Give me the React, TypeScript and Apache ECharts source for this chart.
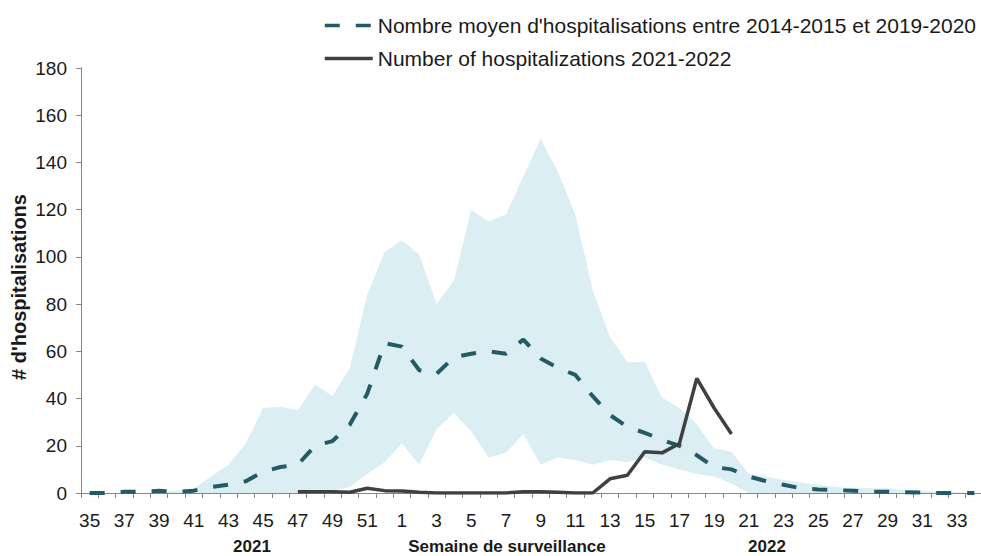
import React, { useEffect, useRef } from "react";
import * as echarts from "echarts";

const weeks: string[] = [
  "35","36","37","38","39","40","41","42","43","44","45","46","47","48","49","50","51","52",
  "1","2","3","4","5","6","7","8","9","10","11","12","13","14","15","16","17","18","19","20",
  "21","22","23","24","25","26","27","28","29","30","31","32","33","34",
];

// Mean number of hospitalisations 2014-2015 to 2019-2020
const meanValues: number[] = [
  0, 0, 0.5, 0.5, 1, 0.5, 1, 2.5, 3.5, 5, 9, 11, 12, 20, 22, 29, 42, 63.5,
  62, 52, 50.5, 57.5, 59, 60, 59, 65, 57, 53, 50, 41, 33, 28, 25.5, 22.5, 20, 16, 11, 10,
  7, 5, 3.5, 2, 1.5, 1.2, 1, 0.5, 0.5, 0.3, 0.2, 0, 0, 0,
];

// Current season 2021-2022
const currentValues: (number | null)[] = [
  null, null, null, null, null, null, null, null, null, null, null, null, 0.5, 0.5, 0.5, 0.3, 2, 1,
  0.8, 0.3, 0, 0, 0, 0, 0, 0.5, 0.5, 0.3, 0, 0, 6, 7.5, 17.5, 17, 21, 48.5, 36, 25,
  null, null, null, null, null, null, null, null, null, null, null, null, null, null,
];

// Range (min / max) over previous seasons
const bandLower: number[] = [
  0, 0, 0, 0, 0, 0, 0, 0, 0, 0, 0, 0, 0, 0, 1, 2.5, 8, 13,
  21, 12, 27, 34, 26, 15, 17, 25, 12, 15, 14, 12, 14, 13, 15, 12, 10, 8, 7, 4,
  0, 0, 0, 0, 0, 0, 0, 0, 0, 0, 0, 0, 0, 0,
];
const bandUpper: number[] = [
  0, 0, 0, 0, 0.5, 1, 2, 7, 12, 21, 36, 36.5, 35, 46, 41, 53, 84, 102,
  107, 101, 80, 90, 120, 115, 118, 134, 150, 136, 118, 86, 66, 55.5, 55.5, 40.5, 36, 29, 19, 17.5,
  8, 7, 5.5, 4.5, 3.5, 2.5, 2, 2, 2, 1.2, 1, 0.5, 0.3, 0,
];

const yTicks = { min: 0, max: 180, interval: 20 };

const MEAN_NAME = "Nombre moyen d'hospitalisations entre 2014-2015 et 2019-2020";
const CURRENT_NAME = "Number of hospitalizations 2021-2022";
const Y_TITLE = "# d'hospitalisations";
const X_TITLE = "Semaine de surveillance";
const YEAR_LABELS = ["2021", "2022"];

export default function App() {
  const ref = useRef<HTMLDivElement>(null);

  useEffect(() => {
    if (!ref.current) return;
    const chart = echarts.init(ref.current, undefined, { renderer: "svg" });
    const font = "'Liberation Sans', Arial, sans-serif";
    const bandRange = bandUpper.map((u, i) => Math.max(0, u - bandLower[i]));

    chart.setOption({
      animation: false,
      backgroundColor: "#ffffff",
      textStyle: { fontFamily: font },
      legend: {
        data: [MEAN_NAME, CURRENT_NAME],
        orient: "vertical",
        left: 318,
        top: 10,
        itemWidth: 48,
        itemHeight: 14,
        itemGap: 12,
        itemStyle: { opacity: 0 },
        lineStyle: { width: 3.5 },
        textStyle: { fontSize: 21, color: "#1a1a1a", fontFamily: font, lineHeight: 21 },
      },
      grid: { left: 81, top: 68, width: 902, bottom: 63, outerBoundsMode: "none", containLabel: false },
      xAxis: {
        type: "category",
        data: weeks,
        boundaryGap: true,
        name: X_TITLE,
        nameLocation: "middle",
        nameGap: 45,
        nameTextStyle: {
          fontSize: 17,
          fontWeight: "bold",
          color: "#1a1a1a",
          fontFamily: font,
          padding: [0, 50, 0, 0],
        },
        axisLine: { show: true, lineStyle: { color: "#868686", width: 1 } },
        axisTick: { show: true, interval: 0, length: 5, lineStyle: { color: "#868686" } },
        axisLabel: { interval: 1, fontSize: 19, color: "#1a1a1a", margin: 18, fontFamily: font },
        splitLine: { show: false },
      },
      yAxis: {
        type: "value",
        min: yTicks.min,
        max: yTicks.max,
        interval: yTicks.interval,
        axisLine: { show: true, lineStyle: { color: "#868686", width: 1 } },
        axisTick: { show: true, length: 5, lineStyle: { color: "#868686" } },
        axisLabel: { fontSize: 19, color: "#1a1a1a", margin: 14, fontFamily: font },
        splitLine: { show: false },
      },
      graphic: [
        {
          type: "text",
          x: 19,
          y: 287,
          rotation: Math.PI / 2,
          style: {
            text: Y_TITLE,
            font: `bold 20px ${font}`,
            fill: "#1a1a1a",
            align: "center",
            verticalAlign: "middle",
          },
        },
        {
          type: "text",
          x: 252,
          y: 546.5,
          style: {
            text: YEAR_LABELS[0],
            font: `bold 17px ${font}`,
            fill: "#1a1a1a",
            align: "center",
            verticalAlign: "middle",
          },
        },
        {
          type: "text",
          x: 767,
          y: 546.5,
          style: {
            text: YEAR_LABELS[1],
            font: `bold 17px ${font}`,
            fill: "#1a1a1a",
            align: "center",
            verticalAlign: "middle",
          },
        },
      ],
      series: [
        {
          name: "bandLow",
          type: "line",
          data: bandLower,
          stack: "band",
          symbol: "none",
          lineStyle: { opacity: 0 },
          silent: true,
          z: 1,
        },
        {
          name: "bandRange",
          type: "line",
          data: bandRange,
          stack: "band",
          symbol: "none",
          lineStyle: { opacity: 0 },
          areaStyle: { color: "#dbeef4", opacity: 1 },
          silent: true,
          z: 1,
        },
        {
          name: MEAN_NAME,
          type: "line",
          data: meanValues,
          symbol: "none",
          itemStyle: { color: "#245a66" },
          lineStyle: { color: "#245a66", width: 4, type: [15, 16] },
          z: 3,
        },
        {
          name: CURRENT_NAME,
          type: "line",
          data: currentValues,
          symbol: "none",
          connectNulls: false,
          itemStyle: { color: "#404040" },
          lineStyle: { color: "#404040", width: 3.5 },
          z: 4,
        },
      ],
    });

    return () => chart.dispose();
  }, []);

  return (
    <div
      ref={ref}
      style={{ position: "fixed", left: 0, top: 0, width: 981, height: 556 }}
    />
  );
}
